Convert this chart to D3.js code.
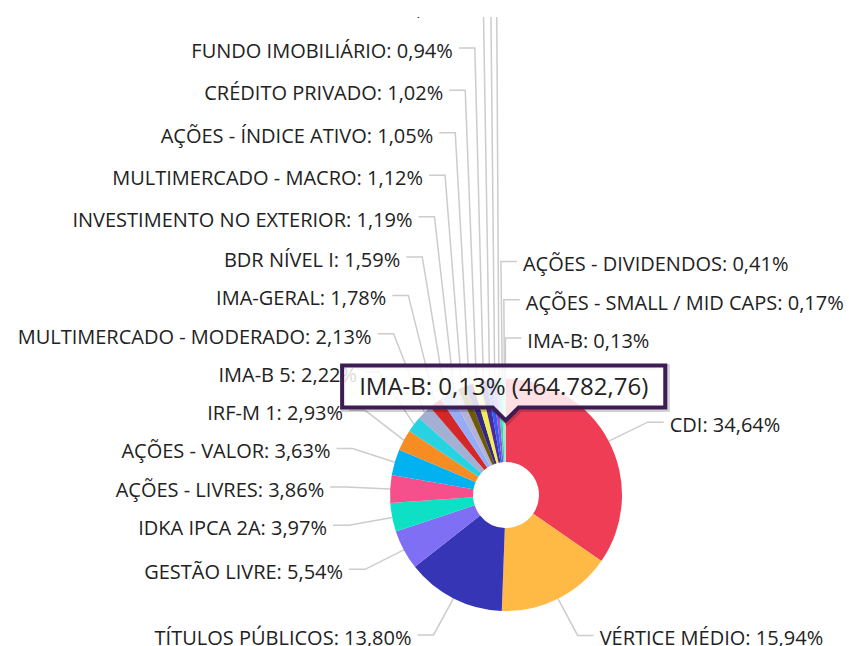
<!DOCTYPE html>
<html>
<head>
<meta charset="utf-8">
<script src="https://cdn.jsdelivr.net/npm/d3@7"></script>
<style>
  html, body { margin: 0; padding: 0; background: #fff; }
  svg { display: block; font-family: "Open Sans", "Noto Sans", sans-serif; }
</style>
</head>
<body>
<svg id="chart"></svg>
<script>
// carteira por segmento (% do patrimônio), em ordem horária a partir do topo
var categories = [
  "CDI", "VÉRTICE MÉDIO", "TÍTULOS PÚBLICOS", "GESTÃO LIVRE", "IDKA IPCA 2A",
  "AÇÕES - LIVRES", "AÇÕES - VALOR", "IRF-M 1", "IMA-B 5", "MULTIMERCADO - MODERADO",
  "IMA-GERAL", "BDR NÍVEL I", "INVESTIMENTO NO EXTERIOR", "MULTIMERCADO - MACRO",
  "AÇÕES - ÍNDICE ATIVO", "CRÉDITO PRIVADO", "FUNDO IMOBILIÁRIO",
  "IRF-M", "MULTIMERCADO - ESTRATÉGIA LIVRE", "AÇÕES - SETORIAIS",
  "AÇÕES - DIVIDENDOS", "AÇÕES - SMALL / MID CAPS", "IMA-B"
];
var shares = [
  34.64, 15.94, 13.80, 5.54, 3.97,
  3.86, 3.63, 2.93, 2.22, 2.13,
  1.78, 1.59, 1.19, 1.12,
  1.05, 1.02, 0.94,
  0.78, 0.63, 0.53,
  0.41, 0.17, 0.13
];
var sliceColors = [
  "#ef3d55", "#ffb945", "#3535b5", "#7f6ff5", "#0de0c4",
  "#f5508b", "#02b1f0", "#f78c22", "#27d3e2", "#a3b0d3",
  "#d42727", "#95adf6", "#b5b2da", "#6e5a04",
  "#35278a", "#f4ef4e", "#4a2aa0",
  "#2f5cf2", "#9b4fe0", "#33dd98",
  "#7ee8dc", "#c9c9c9", "#e0a8b0"
];
var hoveredCategory = "IMA-B";
var hoveredAmount = 464782.76;

var width = 849, height = 646;
var cx = 506, cy = 495, outerR = 116, innerR = 33;
var labelRx = 160, labelRy = 157;
// espaçamento entre rótulos empilhados (um pouco maior longe da pizza)
var labelStep = d3.scaleLinear().domain([300, 200]).range([38.3, 42.4]).clamp(true);

var br = d3.formatLocale({ decimal: ",", thousands: ".", grouping: [3], currency: ["R$", ""] });
var pct = function(v) { return br.format(".2f")(v) + "%"; };

var data = categories.map(function(c, i) {
  return { name: c, share: shares[i], color: sliceColors[i] };
});

var svg = d3.select("#chart").attr("width", width).attr("height", height);

var pie = d3.pie().sort(null).value(function(d) { return d.share; });
var arcs = pie(data);

var arc = d3.arc().innerRadius(innerR).outerRadius(outerR);

var g = svg.append("g");

// posições dos rótulos
arcs.forEach(function(d) {
  var a = (d.startAngle + d.endAngle) / 2;
  d.mid = a;
  // fatias coladas no topo vão para a direita
  d.right = Math.sin(a) > -0.04;
  d.order = d.right ? (a > Math.PI ? a - 2 * Math.PI : a) : 2 * Math.PI - a;
  d.ny = cy - labelRy * Math.cos(a);
  d.ex = cx + labelRx * Math.sin(a);
});

[true, false].forEach(function(side) {
  var list = arcs.filter(function(d) { return d.right === side; })
    .sort(function(a, b) { return a.order - b.order; });
  for (var i = list.length - 1; i >= 0; i--) {
    var y = list[i].ny;
    if (i < list.length - 1) {
      var below = list[i + 1].ly;
      y = Math.min(y, below - labelStep(below));
    }
    list[i].ly = y;
  }
});

// conectores
g.selectAll("polyline.conn")
  .data(arcs)
  .enter().append("polyline")
  .attr("class", "conn")
  .attr("fill", "none")
  .attr("stroke", "#cccccc")
  .attr("stroke-width", 1.5)
  .attr("points", function(d) {
    var px = cx + outerR * Math.sin(d.mid), py = cy - outerR * Math.cos(d.mid);
    var hx = d.ex + (d.right ? 16 : -16);
    return [[px, py], [d.ex, d.ly], [hx, d.ly]].join(" ");
  });

// fatias
g.selectAll("path.slice")
  .data(arcs)
  .enter().append("path")
  .attr("class", "slice")
  .attr("transform", "translate(" + cx + "," + cy + ")")
  .attr("d", arc)
  .attr("fill", function(d) { return d.data.color; });

// rótulos
g.selectAll("text.lbl")
  .data(arcs)
  .enter().append("text")
  .attr("class", "lbl")
  .attr("x", function(d) { return d.right ? d.ex + 22 : d.ex - 22; })
  .attr("y", function(d) { return d.ly; })
  .attr("dy", "0.49em")
  .attr("text-anchor", function(d) { return d.right ? "start" : "end"; })
  .style("font-size", "20px")
  .style("fill", "#222")
  .text(function(d) { return d.data.name + ": " + pct(d.data.share); });

// tooltip do ponto em destaque
var hov = arcs[categories.indexOf(hoveredCategory)];
var c = arc.centroid(hov);
var ax = cx + c[0], ay = cy + c[1];

var tip = svg.append("g");
var tipShadow = tip.append("path");
var tipBox = tip.append("path");
var tipText = tip.append("text")
  .style("font-size", "24px")
  .style("fill", "#222")
  .text(hov.data.name + ": " + pct(hov.data.share) + " (" + br.format(",.2f")(hoveredAmount) + ")");

var tw = tipText.node().getComputedTextLength();
var boxW = tw + 34, boxH = 42, arrowH = 13, arrowW = 13;
var bx0 = ax - 2 - boxW / 2, bx1 = bx0 + boxW;
var by1 = ay - arrowH, by0 = by1 - boxH;
var tipPath = "M" + bx0 + "," + by0 + "H" + bx1 + "V" + by1 +
  "H" + (ax + arrowW) + "L" + ax + "," + ay + "L" + (ax - arrowW) + "," + by1 +
  "H" + bx0 + "Z";

tipShadow.attr("d", tipPath)
  .attr("transform", "translate(1.5,1.5)")
  .attr("fill", "none")
  .attr("stroke", "rgba(0,0,0,0.18)")
  .attr("stroke-width", 6);
tipBox.attr("d", tipPath)
  .attr("fill", "rgba(255,255,255,0.84)")
  .attr("stroke", "#3d1c55")
  .attr("stroke-width", 4)
  .attr("stroke-linejoin", "miter");
tipText.attr("x", bx0 + 17).attr("y", (by0 + by1) / 2 + 8.5);

// faixa superior recortada
svg.append("rect").attr("x", 0).attr("y", 0).attr("width", width).attr("height", 17).attr("fill", "#fff");
</script>
</body>
</html>
